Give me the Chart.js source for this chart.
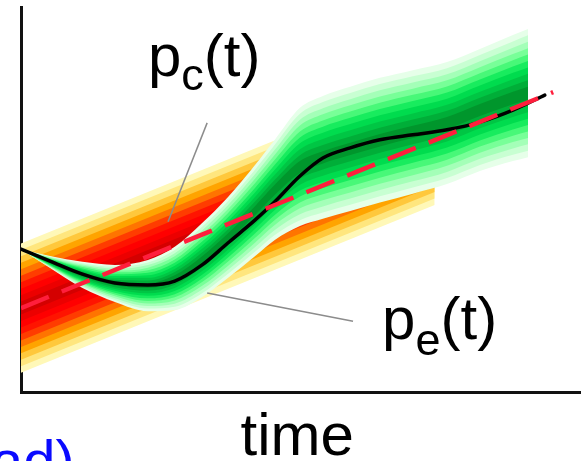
<!DOCTYPE html>
<html>
<head>
<meta charset="utf-8">
<script src="https://cdn.jsdelivr.net/npm/chart.js@4.4.1/dist/chart.umd.min.js"></script>
<style>
html,body{margin:0;padding:0;background:#fff;overflow:hidden}
#wrap{width:582px;height:461px;position:relative}
</style>
</head>
<body>
<div id="wrap"><canvas id="c" width="582" height="461"></canvas></div>
<script>
// ---------- data (time 0..100, value 0..100) ----------
// p_c(t): straight forecast band (orange/red fan) and its dashed median
const bandT      = [0, 74.0];
const bandUpper  = [38.6, 82.2];
const bandLower  = [5.0, 48.6];
const redT       = [0, 95.2];
const redY       = [21.8, 77.9];

// p_e(t): S-shaped green fan and its black median
const greenT     = [0, 5.2, 11.0, 16.8, 22.7, 27.5, 32.4, 37.0, 41.9, 45.4, 49.9, 54.0, 58.9, 64.2, 70.1, 76.2, 82.1, 88.0, 90.7];
const greenUpper = [37.1, 35.3, 33.8, 33.0, 34.3, 37.7, 43.9, 50.6, 59.0, 65.5, 73.8, 76.9, 79.3, 81.6, 83.6, 85.7, 89.1, 92.7, 94.3];
const greenLower = [37.1, 32.2, 27.0, 23.4, 21.0, 21.3, 24.7, 29.6, 35.3, 39.5, 43.1, 45.0, 47.0, 49.2, 51.5, 54.0, 57.4, 60.0, 61.0];
const medianT    = [0, 5.2, 11.0, 16.8, 22.7, 27.5, 32.4, 37.0, 41.9, 45.4, 49.9, 54.0, 58.9, 64.2, 70.1, 76.2, 82.1, 88.0, 93.7];
const medianY    = [37.1, 34.0, 30.6, 28.3, 27.8, 28.8, 33.0, 38.7, 44.7, 49.4, 56.1, 60.8, 63.4, 65.5, 66.8, 68.1, 70.1, 73.2, 77.1];

// texts
const xAxisLabel = 'time';
const labelC = ['p', 'c', '(t)'];
const labelE = ['p', 'e', '(t)'];
const cornerText = 'ad)';

// ---------- styles ----------
const ORANGE_LAYERS = ['#fff8b8','#ffe67e','#ffc83c','#ffa400','#ff7400','#ff3c00','#ff1400','#ff0000','#ec0000','#d40000'];
const GREEN_LAYERS  = ['#e6ffe9','#c8ffd2','#a4ffb8','#78ff98','#48f878','#18ec5e','#00dc4e','#00c644','#00ae38','#00962c'];
const FONT = '"Liberation Sans", Arial, sans-serif';

// ---------- build layered fill datasets ----------
const datasets = [];
function addFan(t, up, lo, colors, smooth) {
  const n = colors.length;
  colors.forEach((col, k) => {
    const f = 1 - k / n;
    const u = [], l = [];
    for (let i = 0; i < t.length; i++) {
      const mid = (up[i] + lo[i]) / 2;
      u.push({x: t[i], y: mid + (up[i] - mid) * f});
      l.push({x: t[i], y: mid - (mid - lo[i]) * f});
    }
    const li = datasets.length;
    const common = {borderWidth: 0, borderColor: 'rgba(0,0,0,0)', pointRadius: 0,
      cubicInterpolationMode: smooth ? 'monotone' : 'default', tension: 0};
    datasets.push(Object.assign({data: l, fill: false}, common));
    datasets.push(Object.assign({data: u, fill: {target: li}, backgroundColor: col}, common));
  });
}
addFan(bandT, bandUpper, bandLower, ORANGE_LAYERS, false);
addFan(greenT, greenUpper, greenLower, GREEN_LAYERS, true);
datasets.push({
  data: medianT.map((x, i) => ({x, y: medianY[i]})),
  borderColor: '#000', borderWidth: 3.5, pointRadius: 0, fill: false,
  cubicInterpolationMode: 'monotone', borderCapStyle: 'round', borderJoinStyle: 'round'
});
datasets.push({
  data: redT.map((x, i) => ({x, y: redY[i]})),
  borderColor: '#ff1e3c', borderWidth: 4.5, pointRadius: 0, fill: false,
  borderDash: [30, 14], borderCapStyle: 'butt'
});
datasets.forEach((d, i) => { d.order = datasets.length - i; });

// ---------- annotations plugin ----------
function subLabel(ctx, parts, x, base, size, subSize, drop) {
  ctx.textBaseline = 'alphabetic';
  ctx.textAlign = 'left';
  ctx.font = size + 'px ' + FONT;
  ctx.fillText(parts[0], x, base);
  x += ctx.measureText(parts[0]).width;
  ctx.font = subSize + 'px ' + FONT;
  ctx.fillText(parts[1], x, base + drop);
  x += ctx.measureText(parts[1]).width;
  ctx.font = size + 'px ' + FONT;
  ctx.fillText(parts[2], x, base);
}
const annot = {
  id: 'annot',
  afterDraw(chart) {
    const {ctx, scales: {x, y}, chartArea} = chart;
    const px = v => x.getPixelForValue(v), py = v => y.getPixelForValue(v);
    ctx.save();
    ctx.strokeStyle = '#8c8c8c';
    ctx.lineWidth = 1.5;
    ctx.beginPath(); ctx.moveTo(px(33.3), py(69.9)); ctx.lineTo(px(26.3), py(44.2)); ctx.stroke();
    ctx.beginPath(); ctx.moveTo(px(33.3), py(25.7)); ctx.lineTo(px(59.4), py(18.4)); ctx.stroke();
    ctx.fillStyle = '#000';
    subLabel(ctx, labelC, px(22.7), py(82.1), 60, 45, 14);
    subLabel(ctx, labelE, px(64.6), py(13.8), 60, 45, 16);
    ctx.font = '60px ' + FONT;
    ctx.textAlign = 'center';
    ctx.textBaseline = 'alphabetic';
    ctx.fillText(xAxisLabel, px(49.4), chartArea.bottom + 63);
    ctx.fillStyle = '#0a0aff';
    ctx.font = '58px ' + FONT;
    ctx.textAlign = 'left';
    ctx.fillText(cornerText, -9, chartArea.bottom + 89);
    ctx.restore();
  }
};

const axisOpts = {
  type: 'linear', min: 0, max: 100, z: 1,
  ticks: {display: false},
  grid: {display: false, drawTicks: false},
  border: {display: true, color: '#111', width: 3}
};

new Chart(document.getElementById('c'), {
  type: 'line',
  data: {datasets},
  options: {
    responsive: false,
    animation: false,
    events: [],
    layout: {padding: {left: 21, right: 2, top: 7, bottom: 69}},
    plugins: {legend: {display: false}, tooltip: {enabled: false}, title: {display: false}},
    scales: {x: Object.assign({}, axisOpts), y: Object.assign({}, axisOpts)}
  },
  plugins: [annot]
});
</script>
</body>
</html>
